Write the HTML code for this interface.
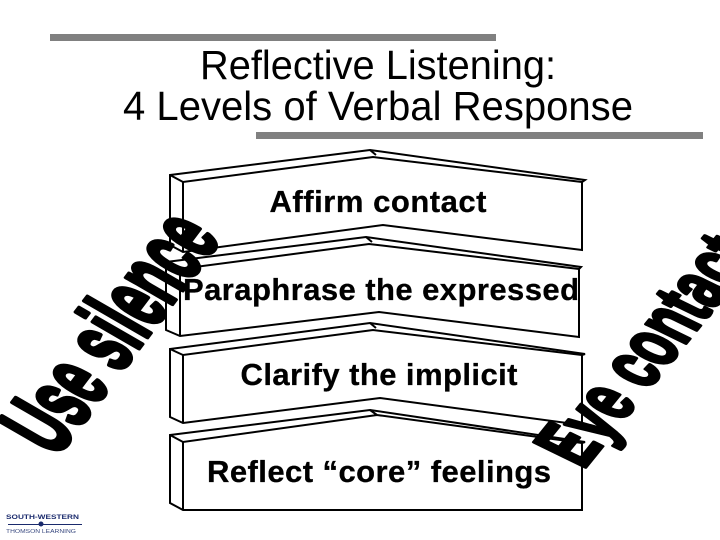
<!DOCTYPE html>
<html><head><meta charset="utf-8"><style>html,body{margin:0;padding:0;background:#fff;width:720px;height:540px;overflow:hidden}svg{display:block}</style></head>
<body>
<svg xmlns="http://www.w3.org/2000/svg" width="720" height="540" viewBox="0 0 720 540" font-family="'Liberation Sans',Arial,sans-serif">
<rect width="720" height="540" fill="#fff"/>
<rect x="50" y="34" width="446" height="7" fill="#808080"/>
<rect x="256" y="132" width="447" height="7" fill="#808080"/>
<g font-size="41" text-anchor="middle" fill="#000">
<text x="378" y="79" textLength="356" lengthAdjust="spacingAndGlyphs">Reflective Listening:</text>
<text x="378" y="120" textLength="510" lengthAdjust="spacingAndGlyphs">4 Levels of Verbal Response</text>
</g>
<g fill="#fff" stroke="#000" stroke-width="2" stroke-linejoin="miter">
<path d="M170 175L370 150L585 180L582 182L582 250L383 225L183 252L170 245Z"/>
<path d="M170 175L183 182L373 157L582 182M183 182V252M370 150L376 155" fill="none"/>
<path d="M166 262L366 237L581 267L579 269L579 337L379 312L180 336L166 330Z"/>
<path d="M166 262L180 269L369 244L579 269M180 269V336M366 237L372 242" fill="none"/>
<path d="M170 349L370 323L585 354L582 355L582 425L380 398L183 423L170 417Z"/>
<path d="M170 349L183 355L373 330L582 355M183 355V423M370 323L376 328" fill="none"/>
<path d="M170 435L370 410L585 442L582 443L582 510L183 510L170 503Z"/>
<path d="M170 435L183 442L377 415L582 443M183 442V510M370 410L377 415" fill="none"/>
</g>
<g font-weight="bold" font-size="31" fill="#000" text-anchor="middle" stroke="#000" stroke-width=".3">
<text x="378" y="212" textLength="217" lengthAdjust="spacing">Affirm contact</text>
<text x="381" y="300" textLength="396" lengthAdjust="spacing">Paraphrase the expressed</text>
<text x="379" y="385" textLength="277" lengthAdjust="spacing">Clarify the implicit</text>
<text x="379" y="482" textLength="344" lengthAdjust="spacing">Reflect “core” feelings</text>
</g>
<g font-weight="bold" font-size="52" fill="#000" stroke="#000" stroke-width="2.6" stroke-linejoin="round">
<text transform="translate(56,458) rotate(-53) skewX(7) scale(.96,1.9)" x="0" y="0">Use silence</text>
<text transform="translate(583,470) rotate(-51) skewX(13) scale(.95,1.55)" x="0" y="0">Eye contact</text>
</g>
<g fill="#1a2a6c" font-weight="bold">
<text x="6" y="519" font-size="6" textLength="73" lengthAdjust="spacingAndGlyphs">SOUTH-WESTERN</text>
<rect x="8" y="524" width="74" height="1"/>
<circle cx="41" cy="524" r="2.5"/>
<text x="6" y="533" font-size="5" font-weight="normal" textLength="70" lengthAdjust="spacingAndGlyphs" fill="#3a4a80">THOMSON LEARNING</text>
</g>
</svg>
</body></html>
